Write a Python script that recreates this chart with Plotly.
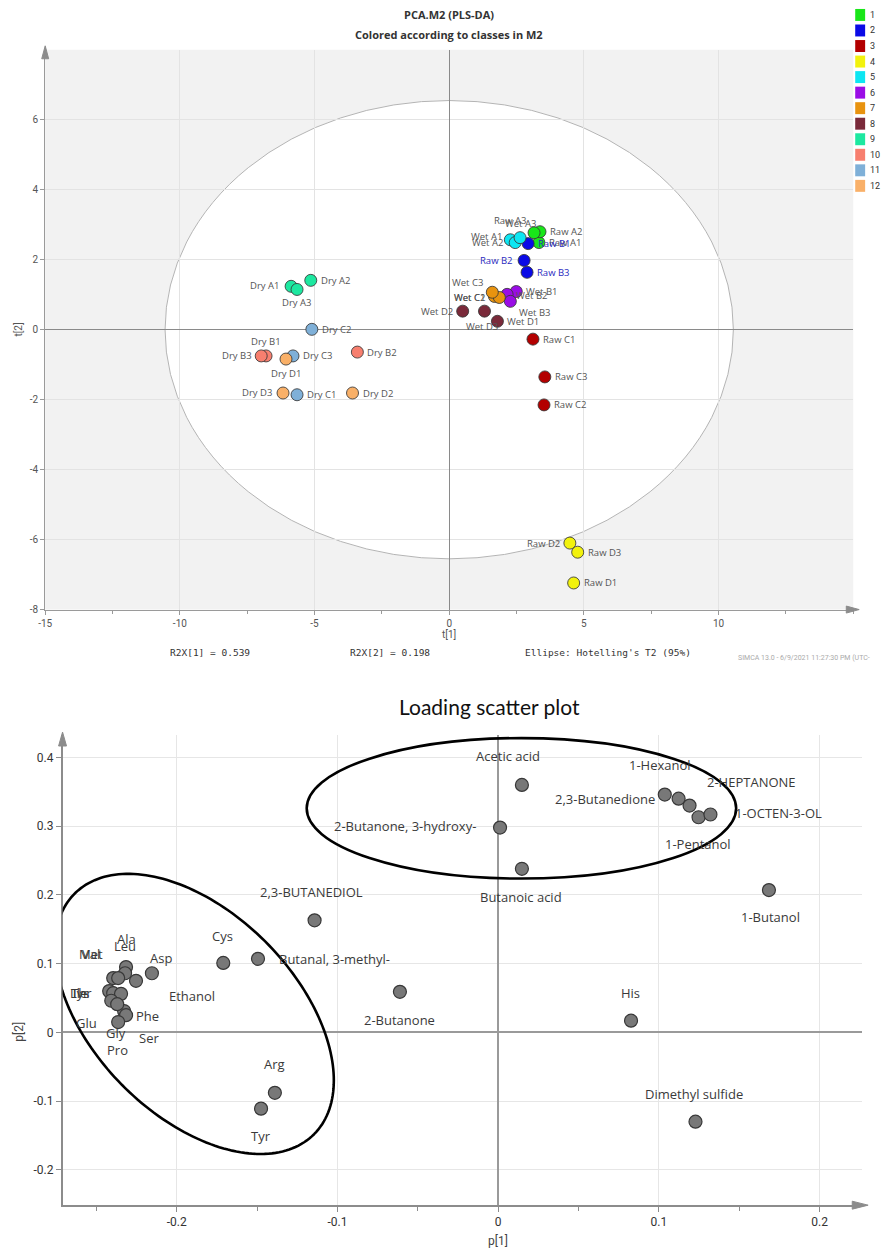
import numpy as np
import plotly.graph_objects as go

W, H = 882, 1255

# ---------------- data: score plot (PCA.M2) ----------------
CLASS_IDS = list(range(1, 13))
CLASS_COLORS = ["#19e619", "#0a0ae6", "#b30000", "#f2f20d", "#0de6f2", "#9a0de6",
                "#e8930f", "#7a2a3a", "#1de8a0", "#f77f6f", "#7fb0d8", "#f9b068"]

SCORE_NAMES = ["Raw A1", "Raw A2", "Raw A3", "Raw B1", "Raw B2", "Raw B3",
               "Raw C1", "Raw C2", "Raw C3", "Raw D1", "Raw D2", "Raw D3",
               "Wet A1", "Wet A2", "Wet A3", "Wet B1", "Wet B2", "Wet B3",
               "Wet C1", "Wet C2", "Wet C3", "Wet D1", "Wet D2", "Wet D3",
               "Dry A1", "Dry A2", "Dry A3", "Dry B1", "Dry B2", "Dry B3",
               "Dry C1", "Dry C2", "Dry C3", "Dry D1", "Dry D2", "Dry D3"]
SCORE_CLASS = [1, 1, 1, 2, 2, 2, 3, 3, 3, 4, 4, 4,
               5, 5, 5, 6, 6, 6, 7, 7, 7, 8, 8, 8,
               9, 9, 9, 10, 10, 10, 11, 11, 11, 12, 12, 12]
SCORE_T1 = [3.33, 3.37, 3.15, 2.93, 2.78, 2.89,
            3.11, 3.52, 3.55, 4.62, 4.48, 4.77,
            2.27, 2.45, 2.63, 2.49, 2.15, 2.27,
            1.68, 1.86, 1.60, 1.79, 0.50, 1.31,
            -5.87, -5.14, -5.65, -6.80, -3.41, -6.98,
            -5.65, -5.10, -5.80, -6.06, -3.59, -6.17]
SCORE_T2 = [2.49, 2.80, 2.77, 2.46, 1.98, 1.64,
            -0.27, -2.15, -1.35, -7.24, -6.10, -6.36,
            2.57, 2.49, 2.63, 1.09, 1.01, 0.81,
            0.95, 0.92, 1.07, 0.24, 0.53, 0.53,
            1.24, 1.41, 1.15, -0.75, -0.64, -0.75,
            -1.86, 0.01, -0.75, -0.84, -1.81, -1.81]

X1_TICKS = [-15, -10, -5, 0, 5, 10]
Y1_TICKS = [-8, -6, -4, -2, 0, 2, 4, 6]
R2X = [0.539, 0.198]
ELLIPSE_T1, ELLIPSE_T2 = 10.55, 6.55   # Hotelling's T2 (95%) semi-axes

# ---------------- data: loading scatter plot ----------------
LOAD_NAMES = ["Ser", "Acetic acid", "2-Butanone, 3-hydroxy-", "Butanoic acid", "2,3-Butanedione",
              "1-Hexanol", "2-HEPTANONE", "1-Pentanol", "1-OCTEN-3-OL", "1-Butanol",
              "2,3-BUTANEDIOL", "Cys", "Butanal, 3-methyl-", "Arg", "Tyr", "2-Butanone",
              "His", "Dimethyl sulfide", "Ala", "Leu", "Met", "Val", "Ethanol", "Asp",
              "Thr", "Ile", "Lys", "Glu", "Gly", "Phe", "Pro"]
LOAD_P1 = [-0.2327, 0.0148, 0.0012, 0.0148, 0.1037,
           0.1123, 0.1191, 0.1247, 0.1321, 0.1685,
           -0.1142, -0.1710, -0.1494, -0.1389, -0.1475, -0.0611,
           0.0827, 0.1228, -0.2315, -0.2321, -0.2395, -0.2364, -0.2253, -0.2154,
           -0.2420, -0.2395, -0.2346, -0.2407, -0.2370, -0.2315, -0.2364]
LOAD_P2 = [0.031, 0.360, 0.298, 0.238, 0.346,
           0.340, 0.330, 0.313, 0.317, 0.207,
           0.163, 0.101, 0.107, -0.088, -0.111, 0.059,
           0.017, -0.130, 0.095, 0.086, 0.079, 0.079, 0.075, 0.086,
           0.060, 0.057, 0.056, 0.046, 0.041, 0.025, 0.015]
X2_TICKS = [-0.2, -0.1, 0, 0.1, 0.2]
Y2_TICKS = [-0.2, -0.1, 0, 0.1, 0.2, 0.3, 0.4]

# ---------------- label placement (anchor, dx px, dy px; dy down) ----------------
SCORE_LABEL_POS = {
    "Raw A1": ("left", 8, 0), "Raw A2": ("left", 8, 0), "Raw A3": ("center", -24, -12),
    "Raw B1": ("left", 8, 0), "Raw B2": ("right", -9, 0), "Raw B3": ("left", 8, 0),
    "Raw C1": ("left", 8, 0), "Raw C2": ("left", 8, 0), "Raw C3": ("left", 8, 0),
    "Raw D1": ("left", 8, 0), "Raw D2": ("right", -8, 0), "Raw D3": ("left", 8, 0),
    "Wet A1": ("right", -6, -3), "Wet A2": ("right", -10, 0), "Wet A3": ("center", 0, -14),
    "Wet B1": ("left", 8, 0), "Wet B2": ("left", 7, 1), "Wet B3": ("left", 7, 11),
    "Wet C1": ("right", -7, 1), "Wet C2": ("right", -12, 0), "Wet C3": ("right", -7, -10),
    "Wet D1": ("left", 8, 0), "Wet D2": ("right", -8, 0), "Wet D3": ("center", -2, 15),
    "Dry A1": ("right", -10, -1), "Dry A2": ("left", 8, 0), "Dry A3": ("center", -1, 13),
    "Dry B1": ("center", 0, -14), "Dry B2": ("left", 8, 0), "Dry B3": ("right", -7, 0),
    "Dry C1": ("left", 8, 0), "Dry C2": ("left", 8, 0), "Dry C3": ("left", 8, 0),
    "Dry D1": ("center", 0, 14), "Dry D2": ("left", 8, 0), "Dry D3": ("right", -9, -1),
}
LOAD_LABEL_POS = {
    "Acetic acid": ("center", -14, -29), "2-Butanone, 3-hydroxy-": ("right", -22, -2),
    "Butanoic acid": ("center", -1, 28), "2,3-Butanedione": ("right", -8, 4),
    "1-Hexanol": ("center", -19, -34), "2-HEPTANONE": ("left", 15, -24),
    "1-Pentanol": ("center", -1, 27), "1-OCTEN-3-OL": ("left", 23, -1),
    "1-Butanol": ("center", 2, 27), "2,3-BUTANEDIOL": ("center", -3, -28),
    "Cys": ("center", -1, -27), "Butanal, 3-methyl-": ("left", 19, 0),
    "Arg": ("center", 0, -29), "Tyr": ("center", 0, 27), "2-Butanone": ("center", 0, 28),
    "His": ("center", -1, -28), "Dimethyl sulfide": ("center", -1, -28),
    "Ala": ("center", 0, -28), "Leu": ("center", 0, -27), "Met": ("center", -22, -24),
    "Val": ("center", -27, -24), "Ethanol": ("center", 56, 15), "Asp": ("center", 9, -15),
    "Thr": ("center", -28, 2), "Ile": ("center", -33, 0), "Lys": ("center", -41, -1),
    "Glu": ("center", -25, 22), "Gly": ("center", -1, 29), "Phe": ("center", 21, 1),
    "Pro": ("center", -1, 28), "Ser": ("center", 25, 27),
}

# hand-drawn ellipses on the loading plot (data units)
TOP_ELL_CENTER, TOP_ELL_AXES = (0.0145, 0.326), (0.1336, 0.1022)
LEFT_ELL_CENTER = (-0.1890, 0.0268)
LEFT_ELL_MAJOR = (0.0745, -0.1750)
LEFT_ELL_MINOR = (-0.0445, -0.1045)


def fx(px):
    return px / W


def fy(py):
    return 1 - py / H


LABEL_FONT = "Open Sans, Noto Sans, sans-serif"
TICK_FONT = "Roboto, sans-serif"

fig = go.Figure()

# ---- score traces ----
for cid, col in zip(CLASS_IDS, CLASS_COLORS):
    idx = [i for i, c in enumerate(SCORE_CLASS) if c == cid]
    fig.add_trace(go.Scatter(
        x=[SCORE_T1[i] for i in idx], y=[SCORE_T2[i] for i in idx],
        mode="markers", xaxis="x", yaxis="y", showlegend=False,
        marker=dict(size=12, color=col, line=dict(color="rgba(55,55,55,0.85)", width=1)),
        hovertext=[SCORE_NAMES[i] for i in idx],
    ))

# ---- loading trace ----
fig.add_trace(go.Scatter(
    x=LOAD_P1, y=LOAD_P2, mode="markers", xaxis="x2", yaxis="y2", showlegend=False,
    marker=dict(size=13, color="#787878", line=dict(color="#383838", width=1.2)),
    hovertext=LOAD_NAMES,
))

ann = []
# score labels
for n, x, y, c in zip(SCORE_NAMES, SCORE_T1, SCORE_T2, SCORE_CLASS):
    anc, dx, dy = SCORE_LABEL_POS[n]
    ann.append(dict(x=x, y=y, xref="x", yref="y", text=n, showarrow=False,
                    xanchor=anc, yanchor="middle", xshift=dx, yshift=-dy,
                    font=dict(family=LABEL_FONT, size=9.5,
                              color="#2a2ac0" if c == 2 else "#555555")))
# loading labels
for n, x, y in zip(LOAD_NAMES, LOAD_P1, LOAD_P2):
    anc, dx, dy = LOAD_LABEL_POS[n]
    ann.append(dict(x=x, y=y, xref="x2", yref="y2", text=n, showarrow=False,
                    xanchor=anc, yanchor="middle", xshift=dx, yshift=-dy,
                    font=dict(family=LABEL_FONT, size=13, color="#3a3a3a")))


def ptext(px, py, text, size, family=TICK_FONT, color="#555555", xanchor="center", **kw):
    return dict(x=fx(px), y=fy(py), xref="paper", yref="paper", text=text, showarrow=False,
                xanchor=xanchor, yanchor="middle",
                font=dict(family=family, size=size, color=color), **kw)


MONO = "DejaVu Sans Mono, monospace"
ann += [
    ptext(446, 15, "<b>PCA.M2 (PLS-DA)</b>", 11, LABEL_FONT, "#333333"),
    ptext(446, 35, "<b>Colored according to classes in M2</b>", 11, LABEL_FONT, "#333333"),
    ptext(446, 637, "t[1]", 10),
    ptext(12, 331, "t[2]", 10, textangle=-90),
    ptext(205, 655, "R2X[1] = %.3f" % R2X[0], 9.5, MONO, "#333333"),
    ptext(386, 655, "R2X[2] = %.3f" % R2X[1], 9.5, MONO, "#333333"),
    ptext(606, 655, "Ellipse: Hotelling's T2 (95%)", 9.5, MONO, "#333333"),
    ptext(735, 661, "SIMCA 13.0 - 6/9/2021 11:27:30 PM (UTC-", 7, TICK_FONT, "#aaaaaa",
          xanchor="left"),
    ptext(486, 709, "Loading scatter plot", 21, "Lato, sans-serif", "#111111"),
    ptext(495, 1246, "p[1]", 12, TICK_FONT, "#444444"),
    ptext(12, 1036, "p[2]", 12, TICK_FONT, "#444444", textangle=-90),
]

shapes = []
# gray plot background of score plot + white Hotelling ellipse
shapes.append(dict(type="rect", xref="x domain", yref="y domain", x0=0, x1=1, y0=0, y1=1,
                   fillcolor="#f2f2f2", line=dict(width=0), layer="below"))
shapes.append(dict(type="circle", xref="x", yref="y", x0=-ELLIPSE_T1, x1=ELLIPSE_T1,
                   y0=-ELLIPSE_T2, y1=ELLIPSE_T2, fillcolor="white",
                   line=dict(color="#b4b4b4", width=1), layer="below"))

# legend (class colours)
for k, (cid, col) in enumerate(zip(CLASS_IDS, CLASS_COLORS)):
    yc = 15 + 15.6 * k
    shapes.append(dict(type="rect", xref="paper", yref="paper", x0=fx(855), x1=fx(865),
                       y0=fy(yc + 6), y1=fy(yc - 6), fillcolor=col, line=dict(width=0)))
    ann.append(ptext(868, yc, str(cid), 9, TICK_FONT, "#333333", xanchor="left"))


def tri(points):
    p = "M " + " L ".join("%.5f,%.5f" % (fx(a), fy(b)) for a, b in points) + " Z"
    return dict(type="path", xref="paper", yref="paper", path=p,
                fillcolor="#8c8c8c", line=dict(color="#8c8c8c", width=1))


shapes += [
    tri([(35, 59), (38.5, 46), (42, 59)]),
    tri([(846, 608.5), (859, 612), (846, 615.5)]),
    tri([(52, 749), (56, 735), (60, 749)]),
    tri([(852, 1206), (868, 1210), (852, 1214)]),
]

# loading plot ellipses
cx, cy = TOP_ELL_CENTER
ax_, ay_ = TOP_ELL_AXES
shapes.append(dict(type="circle", xref="x2", yref="y2", x0=cx - ax_, x1=cx + ax_,
                   y0=cy - ay_, y1=cy + ay_, line=dict(color="black", width=2.6)))
t = np.linspace(0, 2 * np.pi, 200)
ex = LEFT_ELL_CENTER[0] + np.cos(t) * LEFT_ELL_MAJOR[0] + np.sin(t) * LEFT_ELL_MINOR[0]
ey = LEFT_ELL_CENTER[1] + np.cos(t) * LEFT_ELL_MAJOR[1] + np.sin(t) * LEFT_ELL_MINOR[1]
path = "M " + " L ".join("%.5f,%.5f" % (a, b) for a, b in zip(ex, ey)) + " Z"
shapes.append(dict(type="path", xref="x2", yref="y2", path=path,
                   line=dict(color="black", width=2.6)))

axis_common = dict(showgrid=True, showline=True, ticks="outside", zeroline=True)

fig.update_layout(
    width=W, height=H, margin=dict(l=0, r=0, t=0, b=0),
    paper_bgcolor="white", plot_bgcolor="rgba(0,0,0,0)",
    showlegend=False, annotations=ann, shapes=shapes,
    xaxis=dict(domain=[fx(38.5), fx(853)], range=[-15, 15], anchor="y",
               tickvals=X1_TICKS, ticktext=[str(v) for v in X1_TICKS],
               gridcolor="#e3e3e3", zerolinecolor="#8a8a8a", zerolinewidth=1,
               linecolor="#9a9a9a", tickcolor="#9a9a9a", ticklen=4,
               minor=dict(dtick=2.5, tick0=0, ticklen=3, tickcolor="#9a9a9a", ticks="outside",
                          showgrid=False),
               tickfont=dict(family=TICK_FONT, size=10, color="#555555"), **axis_common),
    yaxis=dict(domain=[fy(612), fy(50)], range=[-8, 8], anchor="x",
               tickvals=Y1_TICKS, ticktext=[str(v) for v in Y1_TICKS],
               gridcolor="#e3e3e3", zerolinecolor="#8a8a8a", zerolinewidth=1,
               linecolor="#9a9a9a", tickcolor="#9a9a9a", ticklen=4,
               tickfont=dict(family=TICK_FONT, size=10, color="#555555"), **axis_common),
    xaxis2=dict(domain=[fx(56), fx(862)], range=[-0.271, 0.2265], anchor="y2",
                tickvals=X2_TICKS, ticktext=["-0.2", "-0.1", "0", "0.1", "0.2"],
                gridcolor="#e6e6e6", zerolinecolor="#9a9a9a", zerolinewidth=1.5,
                linecolor="#8c8c8c", linewidth=1.5, tickcolor="#8c8c8c", ticklen=5,
                minor=dict(dtick=0.05, tick0=0, ticklen=4, tickcolor="#8c8c8c", ticks="outside",
                           showgrid=False),
                tickfont=dict(family=TICK_FONT, size=12, color="#333333"), **axis_common),
    yaxis2=dict(domain=[fy(1210), fy(738)], range=[-0.2515, 0.4326], anchor="x2",
                tickvals=Y2_TICKS, ticktext=["-0.2", "-0.1", "0", "0.1", "0.2", "0.3", "0.4"],
                gridcolor="#e6e6e6", zerolinecolor="#9a9a9a", zerolinewidth=1.5,
                linecolor="#8c8c8c", linewidth=1.5, tickcolor="#8c8c8c", ticklen=5,
                tickfont=dict(family=TICK_FONT, size=12, color="#333333"), **axis_common),
)

fig.write_html("out.html", config={"displayModeBar": False},
               post_script="document.body.style.margin='0';")
